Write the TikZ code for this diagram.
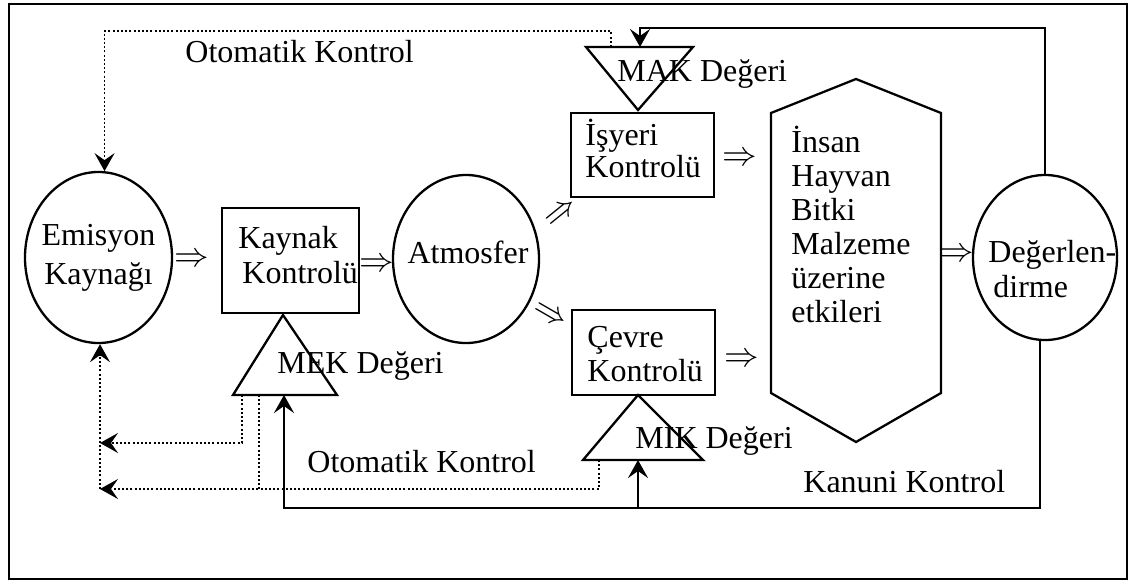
\documentclass[tikz,border=0pt]{standalone}
\usepackage{fontspec}
\setmainfont{Liberation Serif}
\usetikzlibrary{shapes.geometric,arrows.meta}
\begin{document}
\begin{tikzpicture}[x=0.5pt,y=-0.5pt,
  every node/.style={inner sep=0pt},
  shapeline/.style={draw,line width=1.15pt,line join=miter},
  oval/.style={shapeline, ellipse},
  boxed/.style={shapeline, rectangle},
  lbl/.style={align=left, anchor=north west, font=\fontsize{16}{#1}\selectfont},
  lbl/.default=17,
  txt/.style={anchor=base west, font=\fontsize{16}{19}\selectfont},
  flow/.style={font=\fontsize{16.5}{19}\selectfont},
  tipS/.style={-{Stealth[length=9pt,width=10pt,inset=3.5pt]}},
  solidc/.style={line width=1.2pt, tipS},
  dotc/.style={line width=0.85pt, dash pattern=on 1pt off 1.1pt},
  dotarrow/.style={dotc, tipS}
]
\useasboundingbox (0,0) rectangle (1133,583);
% outer frame
\draw[line width=1.1pt] (9,4) rectangle (1127,579);

% main shapes
\node[oval, minimum width=73.5pt, minimum height=85.5pt] (emis) at (98.5,257.5) {};
\node[lbl=19.5, align=center, anchor=center] (emisT) at (emis) {\strut Emisyon\\\strut Kaynağı};

\node[boxed, minimum width=68.5pt, minimum height=52.5pt] (kay) at (290.5,260.5) {};
\node[lbl=17.5] (kayT) at (238,223.5) {\strut Kaynak\\\hspace*{2pt}\strut Kontrolü};

\node[oval, minimum width=73pt, minimum height=84pt] (atm) at (466,259) {};
\node[txt, anchor=base] (atmT) at (468,263) {Atmosfer};

\node[boxed, minimum width=71.5pt, minimum height=42pt] (isy) at (642.5,155) {};
\node[lbl=16] (isyT) at (585,122.6) {\smash{İşyeri}\strut\\\strut Kontrolü};

\node[boxed, minimum width=71.5pt, minimum height=42.5pt] (cev) at (643.5,352.5) {};
\node[lbl=17] (cevT) at (587,323.2) {\strut Çevre\\\strut Kontrolü};

% hexagon
\coordinate (hx1) at (856,79);
\coordinate (hx2) at (941,113);
\coordinate (hx3) at (941,393);
\coordinate (hx4) at (856,442);
\coordinate (hx5) at (771,393);
\coordinate (hx6) at (771,113);
\draw[shapeline] (hx1) -- (hx2) -- (hx3) -- (hx4) -- (hx5) -- (hx6) -- cycle;
\node[lbl=17] (hexT) at (791,128.2) {\smash{İnsan}\strut\\\strut Hayvan\\\strut Bitki\\\strut Malzeme\\\strut üzerine\\\strut etkileri};

\node[oval, minimum width=72pt, minimum height=82.5pt] (deg) at (1045,257.5) {};
\node[lbl=17.5] (degT) at (988,237.5) {\strut Değerlen-\\\hspace*{2.5pt}\strut dirme};

% triangles
\coordinate (mak1) at (586,47);
\coordinate (mak2) at (693,47);
\coordinate (mak3) at (638,110);
\draw[shapeline] (mak1) -- (mak2) -- (mak3) -- cycle;
\node[txt] (makT) at (617,82) {MAK Değeri};

\coordinate (mek1) at (283,315);
\coordinate (mek2) at (233,395);
\coordinate (mek3) at (337,395);
\draw[shapeline] (mek1) -- (mek2) -- (mek3) -- cycle;
\node[txt] (mekT) at (277,373) {MEK Değeri};

\coordinate (mik1) at (638,395);
\coordinate (mik2) at (583,460);
\coordinate (mik3) at (703,460);
\draw[shapeline] (mik1) -- (mik2) -- (mik3) -- cycle;
\node[txt] (mikT) at (635,448) {MIK Değeri};

% flow symbols
\node[flow] (r1) at (192,260) {$\Rightarrow$};
\node[flow] (r2) at (377,265) {$\Rightarrow$};
\node[flow, rotate=39] (r3) at (562,214) {$\Rightarrow$};
\node[flow, rotate=-30] (r4) at (550,316) {$\Rightarrow$};
\node[flow] (r5) at (740,159) {$\Rightarrow$};
\node[flow] (r6) at (742,360) {$\Rightarrow$};
\node[flow] (r7) at (957,255) {$\Rightarrow$};

% labels
\node[txt] (otoTop) at (185,63) {Otomatik Kontrol};
\node[txt] (otoBot) at (307,472) {Otomatik Kontrol};
\node[txt] (kanT) at (803,492) {Kanuni Kontrol};

% automatic control (dotted)
\coordinate (makL) at (611,47);
\coordinate (tl) at (611,31);
\draw[dotarrow] (makL) -- (tl) -| (emis.86);

\coordinate (mekD1) at (242,395);
\coordinate (mekD2) at (259,395);
\coordinate (la) at (100,443);
\coordinate (lc) at (100,489);
\coordinate (mikD) at (599,460);
\draw[dotarrow] (mekD1) |- (la);
\draw[dotc] (mekD2) -- (mekD2 |- lc);
\draw[dotarrow] (mikD) |- (lc);
\draw[dotarrow] (lc) -- (lc |- emis.south);

% legal control (solid)
\coordinate (makIn) at (640,47);
\coordinate (topbend) at (640,28);
\draw[solidc] (deg.north) |- (topbend) -- (makIn);

\coordinate (kb) at (1040,508);
\coordinate (mekB) at (284,395);
\coordinate (mikB) at (638,460);
\draw[solidc] (kb |- deg.south) -- (kb) -| (mekB);
\draw[solidc] (mikB |- kb) -- (mikB);
\end{tikzpicture}
\end{document}
